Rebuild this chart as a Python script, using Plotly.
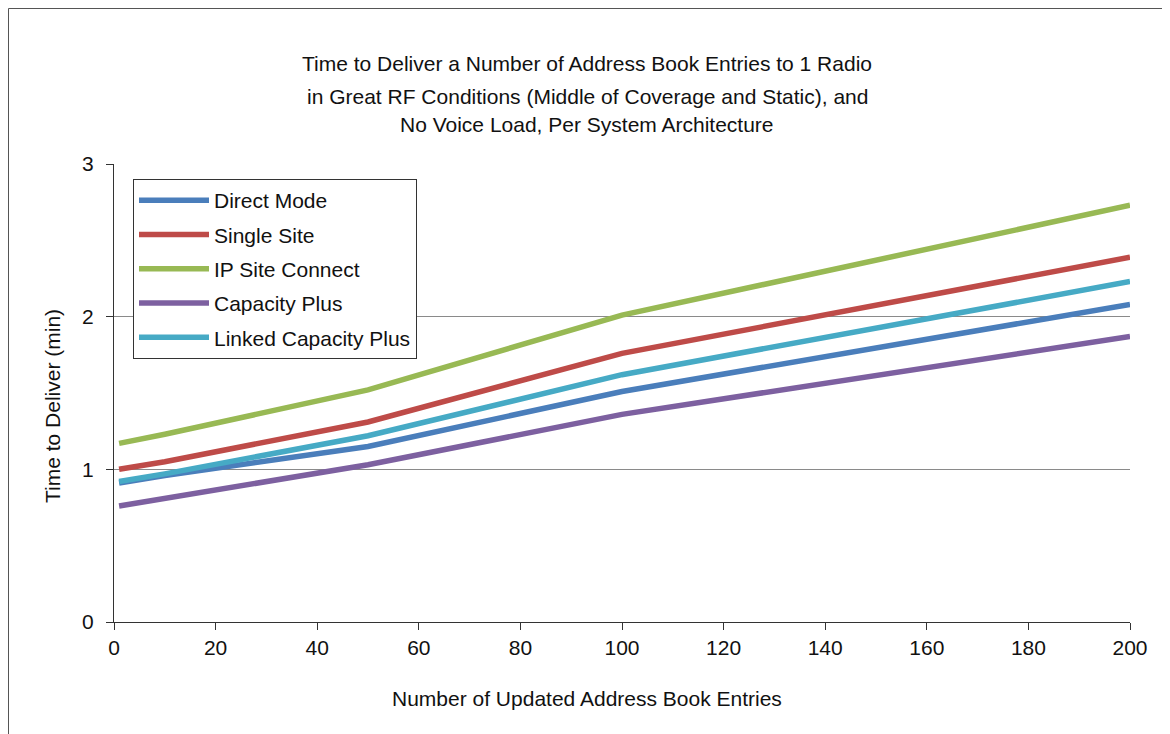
import plotly.graph_objects as go

# data
entries = [1, 10, 50, 100, 200]
direct_mode = [0.91, 0.96, 1.15, 1.51, 2.08]
single_site = [1.00, 1.05, 1.31, 1.76, 2.39]
ip_site_connect = [1.17, 1.23, 1.52, 2.01, 2.73]
capacity_plus = [0.76, 0.81, 1.03, 1.36, 1.87]
linked_capacity_plus = [0.92, 0.97, 1.22, 1.62, 2.23]

series_names = ["Direct Mode", "Single Site", "IP Site Connect", "Capacity Plus", "Linked Capacity Plus"]
series_values = [direct_mode, single_site, ip_site_connect, capacity_plus, linked_capacity_plus]
series_colors = ["#4A7EBB", "#BE4B48", "#98B954", "#7D60A0", "#46AAC5"]

x_ticks = list(range(0, 201, 20))
y_ticks = [0, 1, 2, 3]

title_lines = [
    "Time to Deliver a Number of Address Book Entries to 1 Radio",
    "in Great RF Conditions (Middle of Coverage and Static), and",
    "No Voice Load, Per System Architecture",
]

FONT = "Liberation Sans, Arial, sans-serif"
# the page body adds an 8px offset, so positions below are page pixels minus 8
OFF = 8
W, H = 1170, 734
L, T = 114 - OFF, 164 - OFF
R, B = W - (1130 - OFF), H - (622 - OFF)
PW, PH = W - L - R, H - T - B


def px(x):
    return (x - OFF - L) / PW


def py(y):
    return (H - B - (y - OFF)) / PH


fig = go.Figure()
for name, values, color in zip(series_names, series_values, series_colors):
    fig.add_trace(
        go.Scatter(
            x=entries,
            y=values,
            mode="lines",
            name=name,
            legendgroup=name,
            line={"color": color, "width": 5.5},
        )
    )

annotations = []
for text, y in zip(title_lines, [64, 96, 125]):
    annotations.append(
        dict(text=text, x=px(587), y=py(y), xref="paper", yref="paper",
             xanchor="center", yanchor="middle", showarrow=False,
             font={"size": 21, "color": "#111"})
    )
annotations.append(
    dict(text="Number of Updated Address Book Entries", x=px(587), y=py(698),
         xref="paper", yref="paper", xanchor="center", yanchor="middle",
         showarrow=False, font={"size": 21, "color": "#111"})
)
annotations.append(
    dict(text="Time to Deliver (min)", x=px(52), y=py(406), xref="paper", yref="paper",
         xanchor="center", yanchor="middle", textangle=-90, showarrow=False,
         font={"size": 21, "color": "#111"})
)

fig.update_layout(
    width=W,
    height=H,
    margin={"l": L, "r": R, "t": T, "b": B},
    paper_bgcolor="white",
    plot_bgcolor="white",
    font={"family": FONT, "size": 21, "color": "#111"},
    showlegend=True,
    legend={
        "x": px(133), "y": py(179), "xanchor": "left", "yanchor": "top",
        "bordercolor": "#333", "borderwidth": 1, "bgcolor": "white",
        "font": {"size": 21}, "tracegroupgap": 4, "itemwidth": 70,
    },
    annotations=annotations,
    shapes=[
        dict(type="rect", xref="paper", yref="paper",
             x0=px(OFF + 0.5), x1=px(1167), y0=-0.4, y1=py(OFF + 0.5),
             line={"color": "#555", "width": 1}, layer="below"),
    ],
)
fig.update_xaxes(
    range=[0, 200], tickvals=x_ticks, showgrid=False, zeroline=False,
    showline=True, linecolor="#333", linewidth=1,
    ticks="outside", ticklen=7, tickcolor="#333", tickfont={"size": 21},
)
fig.update_yaxes(
    range=[0, 3], tickvals=y_ticks, showgrid=True, gridcolor="#8a8a8a", gridwidth=1,
    zeroline=False, showline=True, linecolor="#333", linewidth=1,
    ticks="outside", ticklen=7, tickcolor="#333", tickfont={"size": 21},
    ticklabelstandoff=8,
)

fig.write_html("out.html")
